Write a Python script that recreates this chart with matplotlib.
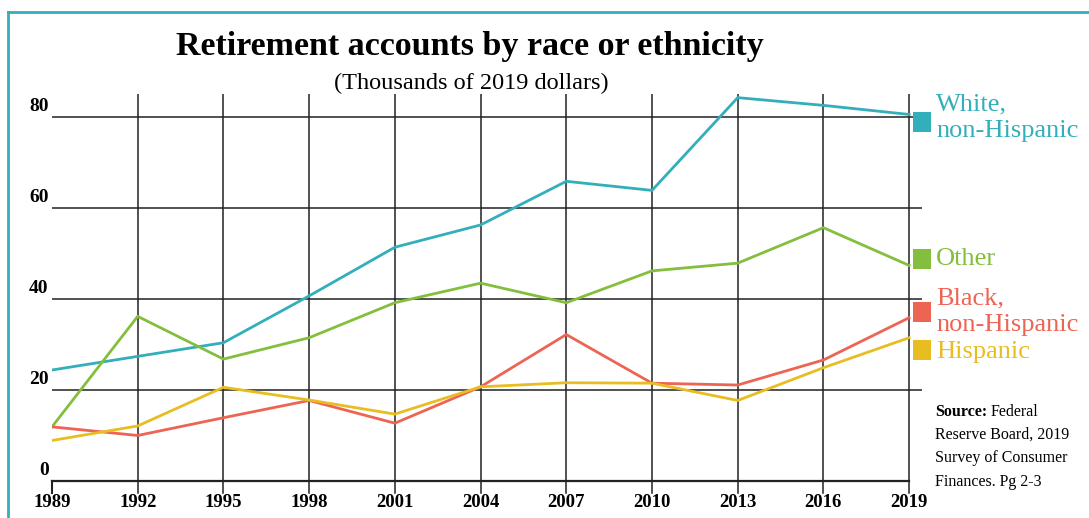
import matplotlib
matplotlib.use("Agg")
import matplotlib.pyplot as plt
from matplotlib.lines import Line2D
from matplotlib.patches import Rectangle

plt.rcParams['font.family'] = ['Liberation Serif', 'DejaVu Serif']

years = [1989, 1992, 1995, 1998, 2001, 2004, 2007, 2010, 2013, 2016, 2019]
white = [24.3, 27.3, 30.3, 40.6, 51.3, 56.2, 65.8, 63.8, 84.2, 82.5, 80.5]
other = [11.8, 36.1, 26.7, 31.4, 39.1, 43.4, 39.1, 46.1, 47.8, 55.6, 47.3]
black = [11.8, 9.9, 13.8, 17.6, 12.6, 20.6, 32.1, 21.4, 21.0, 26.5, 35.8]
hispanic = [8.8, 12.0, 20.5, 17.7, 14.6, 20.6, 21.5, 21.4, 17.6, 24.8, 31.4]
yticks = [0, 20, 40, 60, 80]

series_names = ["White,\nnon-Hispanic", "Other", "Black,\nnon-Hispanic", "Hispanic"]
series_vals = [white, other, black, hispanic]
colors = ["#33afbb", "#83bf3d", "#ee6453", "#e8bd22"]

W, H = 1089, 518
fig = plt.figure(figsize=(W / 100, H / 100), dpi=100)

def fx(px):
    return px / W

def fy(py):
    return 1 - py / H

ax = fig.add_axes([fx(52), fy(480.5), fx(922) - fx(52), fy(94) - fy(480.5)])
ax.set_xlim(1989, 2019.45)
ax.set_ylim(0, 85)

# grid
for y in yticks[1:]:
    ax.axhline(y, color="#222222", lw=1.1, zorder=1)
for x in years[1:]:
    ax.axvline(x, color="#222222", lw=1.1, zorder=1)
    ax.plot([x, x], [0, -2.8], color="#222222", lw=1.1, clip_on=False, zorder=1)
ax.plot([1989, 1989], [0, -2.8], color="#222222", lw=1.5, clip_on=False, zorder=1)

for s in ["top", "right", "left"]:
    ax.spines[s].set_visible(False)
ax.spines["bottom"].set_bounds(1989, 2019)
ax.spines["bottom"].set_linewidth(1.6)
ax.spines["bottom"].set_color("#222222")

ax.set_xticks(years)
ax.set_xticklabels([str(y) for y in years], fontsize=13.5, fontweight="bold")
ax.tick_params(axis="x", length=0, pad=10)
ax.set_yticks([])

for y in yticks:
    ax.text(-0.004, y + 2.3, str(y), transform=ax.get_yaxis_transform(),
            ha="right", va="center", fontsize=14, fontweight="bold")

for vals, c in zip(series_vals, colors):
    ax.plot(years, vals, color=c, lw=2, zorder=3, solid_joinstyle="miter")

# legend squares and labels
sq_centers = [122, 259, 312, 350]
txt_centers = [118, 259, 312, 352]
for name, c, sc, tc in zip(series_names, colors, sq_centers, txt_centers):
    fig.add_artist(Rectangle((fx(913), fy(sc + 10)), fx(18), 20 / H,
                             transform=fig.transFigure, color=c, lw=0))
    fig.text(fx(936), fy(tc), name, color=c, fontsize=19, ha="left",
             va="center", linespacing=1.28)

# source
fig.text(fx(935), fy(412), "Source:", fontsize=11.5, fontweight="bold",
         ha="left", va="center")
fig.text(fx(991), fy(412), "Federal", fontsize=11.5, ha="left", va="center")
fig.text(fx(935), fy(427), "Reserve Board, 2019\nSurvey of Consumer\nFinances. Pg 2-3",
         fontsize=11.5, ha="left", va="top", linespacing=1.62)

# title
fig.text(fx(470), fy(47), "Retirement accounts by race or ethnicity",
         fontsize=24.5, fontweight="bold", ha="center", va="center")
fig.text(fx(471), fy(83), "(Thousands of 2019 dollars)",
         fontsize=17.5, ha="center", va="center")

# border
fig.add_artist(Line2D([fx(8), 1], [fy(12), fy(12)], color="#33afbb", lw=2,
                      transform=fig.transFigure))
fig.add_artist(Line2D([fx(8), fx(8)], [fy(12), 0], color="#33afbb", lw=2,
                      transform=fig.transFigure))

fig.savefig("out.png", dpi=100)
